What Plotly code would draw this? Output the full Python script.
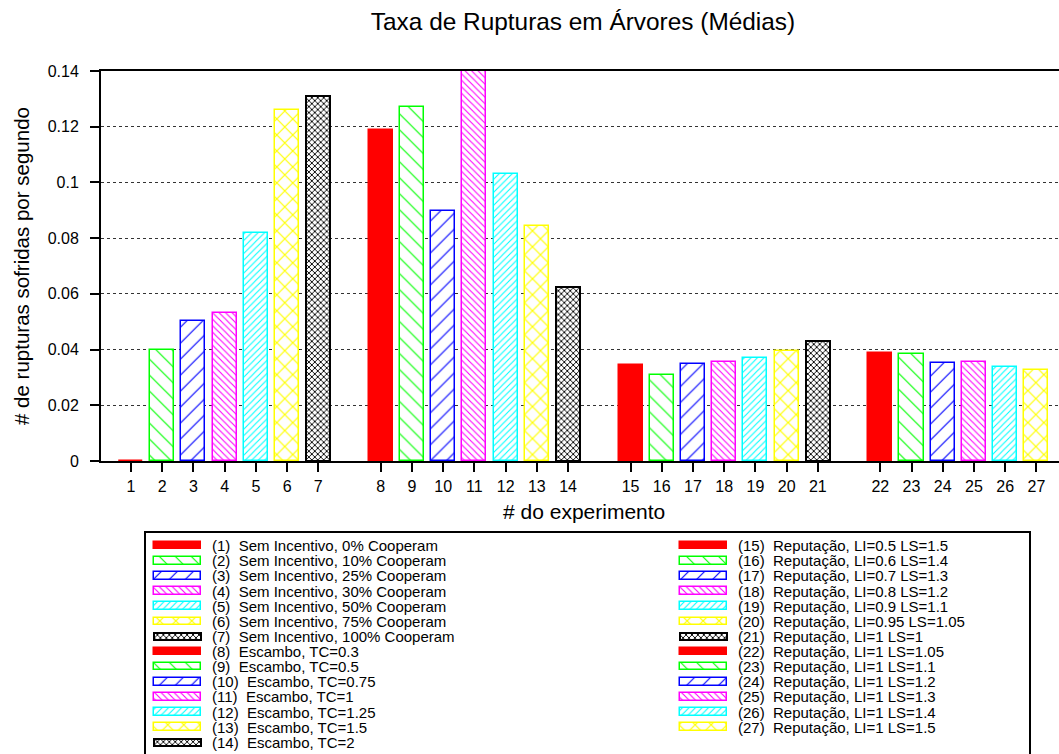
import plotly.graph_objects as go

# ---- data -------------------------------------------------------------
experiments = list(range(1, 28))
rates = [0.0, 0.0400, 0.0503, 0.0533, 0.0817, 0.1261, 0.1312,
         0.1187, 0.1272, 0.0899, 0.1400, 0.1032, 0.0845, 0.0625,
         0.0344, 0.0310, 0.0347, 0.0354, 0.0368, 0.0394, 0.0432,
         0.0387, 0.0384, 0.0353, 0.0357, 0.0336, 0.0328]
descriptions = [
    "Sem Incentivo, 0% Cooperam", "Sem Incentivo, 10% Cooperam",
    "Sem Incentivo, 25% Cooperam", "Sem Incentivo, 30% Cooperam",
    "Sem Incentivo, 50% Cooperam", "Sem Incentivo, 75% Cooperam",
    "Sem Incentivo, 100% Cooperam",
    "Escambo, TC=0.3", "Escambo, TC=0.5", "Escambo, TC=0.75", "Escambo, TC=1",
    "Escambo, TC=1.25", "Escambo, TC=1.5", "Escambo, TC=2",
    "Reputação, LI=0.5 LS=1.5", "Reputação, LI=0.6 LS=1.4",
    "Reputação, LI=0.7 LS=1.3", "Reputação, LI=0.8 LS=1.2",
    "Reputação, LI=0.9 LS=1.1", "Reputação, LI=0.95 LS=1.05",
    "Reputação, LI=1 LS=1", "Reputação, LI=1 LS=1.05",
    "Reputação, LI=1 LS=1.1", "Reputação, LI=1 LS=1.2",
    "Reputação, LI=1 LS=1.3", "Reputação, LI=1 LS=1.4",
    "Reputação, LI=1 LS=1.5",
]
tick_labels = [str(n) for n in experiments]

# ---- styles (cycle of 7 fills) -----------------------------------------
style_colors = ["#ff0000", "#00ff00", "#0000ff", "#ff00ff", "#00ffff", "#ffff00", "#000000"]
style_shapes = ["", "\\", "/", "\\", "/", "x", "x"]
style_sizes = [8, 11.3, 11.3, 4.6, 4.6, 11.3, 4.2]
style_solidity = [0.3, 0.1, 0.1, 0.24, 0.24, 0.2, 0.4]

W, H = 1059, 754
FONT = "Liberation Sans, Arial, Helvetica, sans-serif"

# bar slots: one empty slot between groups of seven experiments
slots = [(n - 1) + (n - 1) // 7 for n in experiments]
style_idx = [(n - 1) % 7 for n in experiments]

# key layout (two columns, drawn on a pixel-scaled helper axis)
rows_left = 14
row0, row_step = 545.7, 15.12
sw_left_x, sw_right_x, sw_len = 154, 680, 47
txt_left_x, txt_right_x = 210, 736

key_y, key_base, key_text_x = [], [], []
for i, n in enumerate(experiments):
    col = 0 if i < rows_left else 1
    r = i if col == 0 else i - rows_left
    key_y.append(row0 + r * row_step)
    key_base.append(sw_left_x if col == 0 else sw_right_x)
    key_text_x.append(txt_left_x if col == 0 else txt_right_x)


def marker_for(s):
    c = style_colors[s]
    m = dict(line=dict(color=c, width=2 if c == "#000000" else 1.5))
    if style_shapes[s] == "":
        m["color"] = c
    else:
        m["color"] = "white"
        m["pattern"] = dict(shape=style_shapes[s], fgcolor=c, bgcolor="white",
                            size=style_sizes[s], solidity=style_solidity[s],
                            fillmode="replace")
    return m


fig = go.Figure()

for s in range(7):
    idx = [i for i, st in enumerate(style_idx) if st == s]
    fig.add_trace(go.Bar(
        x=[slots[i] for i in idx], y=[rates[i] for i in idx], width=0.77,
        marker=marker_for(s), showlegend=False,
        customdata=[experiments[i] for i in idx],
        hovertemplate="#%{customdata}: %{y}<extra></extra>",
        xaxis="x", yaxis="y",
    ))
    fig.add_trace(go.Bar(
        orientation="h", y=[key_y[i] for i in idx],
        x=[sw_len] * len(idx), base=[key_base[i] for i in idx],
        width=7.5, marker=marker_for(s), showlegend=False, hoverinfo="skip",
        xaxis="x2", yaxis="y2",
    ))

annotations = []
for n, d, xx, yy in zip(experiments, descriptions, key_text_x, key_y):
    annotations.append(dict(
        xref="x2", yref="y2", x=xx, y=yy, xanchor="left", yanchor="middle",
        text=f"({n})\u00a0\u00a0{d}", showarrow=False,
        font=dict(family=FONT, size=15, color="black"),
    ))

# axis titles
annotations.append(dict(
    xref="paper", yref="paper", x=21 / W, y=1 - 266 / H,
    text="# de rupturas sofridas por segundo", textangle=-90,
    showarrow=False, xanchor="center", yanchor="middle",
    font=dict(family=FONT, size=20.5, color="black"),
))
annotations.append(dict(
    xref="paper", yref="paper", x=584 / W, y=1 - 511 / H,
    text="# do experimento", showarrow=False,
    xanchor="center", yanchor="middle",
    font=dict(family=FONT, size=21, color="black"),
))

shapes_list = [dict(
    type="rect", xref="x2", yref="y2", x0=145, x1=1030, y0=532, y1=770,
    line=dict(color="black", width=2), fillcolor="rgba(0,0,0,0)",
)]

plot_left, plot_top, plot_bottom = 101, 71, 461
slot_px = 31.22
x_lo = -(131 - plot_left) / slot_px
x_hi = x_lo + (W - plot_left) / slot_px

fig.update_layout(
    width=W, height=H,
    margin=dict(l=0, r=0, t=0, b=0),
    paper_bgcolor="white", plot_bgcolor="rgba(0,0,0,0)",
    font=dict(family=FONT, color="black"),
    title=dict(text="Taxa de Rupturas em Árvores (Médias)",
               x=583 / W, xanchor="center", y=1 - 21 / H, yanchor="middle",
               font=dict(family=FONT, size=24.4, color="black")),
    bargap=0, barmode="overlay",
    xaxis=dict(
        domain=[plot_left / W, 1.0], range=[x_lo, x_hi], autorange=False,
        tickmode="array", tickvals=slots, ticktext=tick_labels,
        ticks="outside", ticklen=9, tickwidth=1.5, tickcolor="black",
        ticklabelstandoff=1,
        showline=True, linecolor="black", linewidth=2, mirror=True,
        showgrid=False, zeroline=False, automargin=False,
        tickfont=dict(family=FONT, size=16, color="black"),
        fixedrange=True,
    ),
    yaxis=dict(
        domain=[1 - plot_bottom / H, 1 - plot_top / H], range=[0, 0.14],
        autorange=False, tick0=0, dtick=0.02,
        ticks="outside", ticklen=9, tickwidth=1.5, tickcolor="black",
        ticklabelstandoff=8,
        showline=True, linecolor="black", linewidth=2,
        showgrid=True, gridcolor="#333333", griddash="dot", gridwidth=1,
        zeroline=False, automargin=False,
        tickfont=dict(family=FONT, size=16, color="black"),
        fixedrange=True,
    ),
    xaxis2=dict(domain=[0, 1], range=[0, W], autorange=False, visible=False,
                fixedrange=True, anchor="y2"),
    yaxis2=dict(domain=[0, (H - 525) / H], range=[H, 525], autorange=False,
                visible=False, fixedrange=True, anchor="x2"),
    annotations=annotations,
    shapes=shapes_list,
)

fig.write_html("out.html")
